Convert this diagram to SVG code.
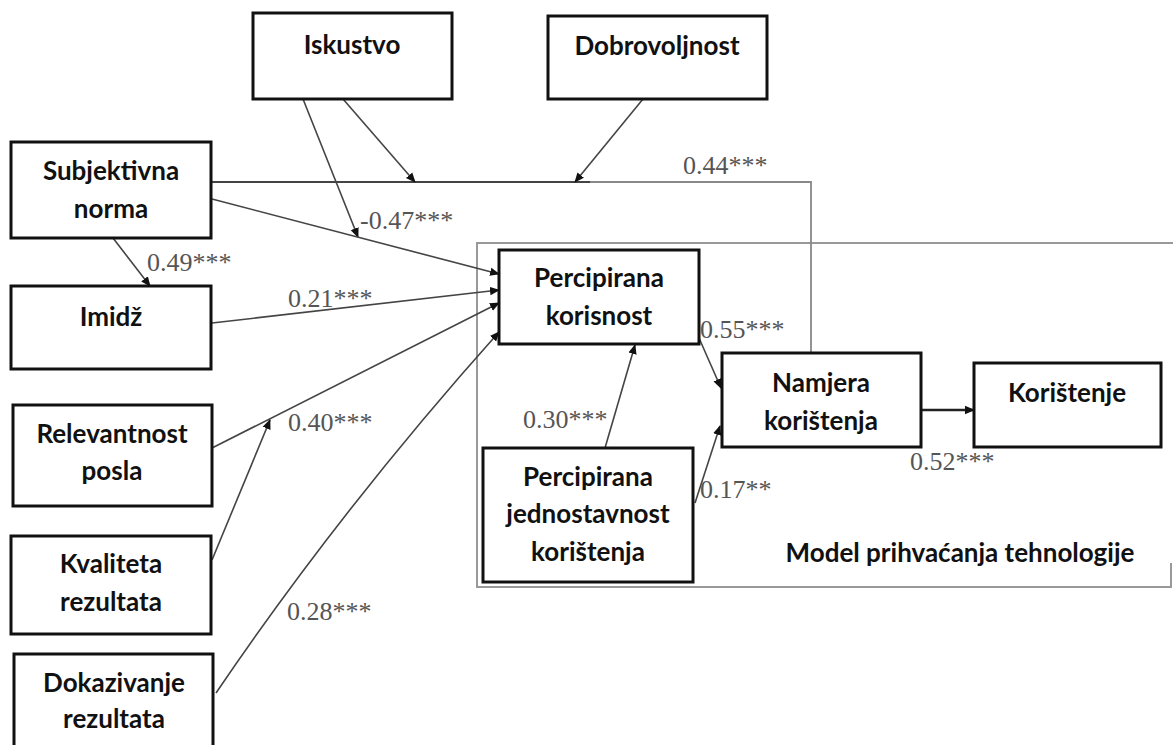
<svg xmlns="http://www.w3.org/2000/svg" width="1173" height="745" viewBox="0 0 1173 745">
<style>
.box{fill:#fff;stroke:#111;stroke-width:3}
.lbl{font-family:Lato,"Liberation Sans",sans-serif;font-weight:700;font-size:26px;fill:#111;text-anchor:middle}
.num{font-family:"Liberation Serif",serif;font-size:26px;fill:#555}
.ln{fill:none;stroke:#444;stroke-width:1.6}
.frame{fill:none;stroke:#999;stroke-width:2}
</style>
<defs>
<marker id="ah" viewBox="0 0 10 10" refX="9" refY="5" markerWidth="10" markerHeight="10" markerUnits="userSpaceOnUse" orient="auto">
<path d="M0,0.8 L10,5 L0,9.2 Z" fill="#111"/>
</marker>
</defs>
<rect width="1173" height="745" fill="#fff"/>

<g id="frames">
<path class="frame" d="M1173,243 H477 V587 H1171 V563"/>
<path d="M211,182 H590" fill="none" stroke="#444" stroke-width="2"/>
<path d="M590,182 H811 V353" fill="none" stroke="#888" stroke-width="1.8"/>
</g>

<g id="connectors">
<line class="ln" x1="343" y1="99" x2="415" y2="182" marker-end="url(#ah)"/>
<line class="ln" x1="303" y1="99" x2="358" y2="237" marker-end="url(#ah)"/>
<line class="ln" x1="643" y1="99" x2="575" y2="182" marker-end="url(#ah)"/>
<line class="ln" x1="113" y1="238" x2="150" y2="286" marker-end="url(#ah)"/>
<line class="ln" x1="212" y1="199" x2="499" y2="274" marker-end="url(#ah)"/>
<line class="ln" x1="212" y1="323" x2="499" y2="290" marker-end="url(#ah)"/>
<line class="ln" x1="212" y1="448" x2="499" y2="303" marker-end="url(#ah)"/>
<line class="ln" x1="212" y1="560" x2="270" y2="420" marker-end="url(#ah)"/>
<path class="ln" d="M216,693 Q340,510 499,332" marker-end="url(#ah)"/>
<line class="ln" x1="605" y1="448" x2="635" y2="345" marker-end="url(#ah)"/>
<line class="ln" x1="699" y1="338" x2="721" y2="388" marker-end="url(#ah)"/>
<line class="ln" x1="695" y1="503" x2="720" y2="426" marker-end="url(#ah)"/>
<line x1="921" y1="410" x2="974" y2="410" stroke="#222" stroke-width="2.4" marker-end="url(#ah)"/>
<text class="num" x="683" y="174">0.44***</text>
<text class="num" x="360" y="229">-0.47***</text>
<text class="num" x="147" y="271">0.49***</text>
<text class="num" x="288" y="307">0.21***</text>
<text class="num" x="288" y="431">0.40***</text>
<text class="num" x="287" y="620">0.28***</text>
<text class="num" x="700" y="338">0.55***</text>
<text class="num" x="523" y="428">0.30***</text>
<text class="num" x="700" y="498">0.17**</text>
<text class="num" x="910" y="470">0.52***</text>
</g>

<g id="iskustvo"><rect class="box" x="253" y="13" width="199" height="86"/><text class="lbl" x="352" y="54">Iskustvo</text></g>
<g id="dobrovoljnost"><rect class="box" x="548" y="16" width="219" height="83"/><text class="lbl" x="657" y="55">Dobrovoljnost</text></g>
<g id="subjektivna-norma"><rect class="box" x="11" y="142" width="200" height="96"/><text class="lbl" x="111" y="180">Subjektivna</text><text class="lbl" x="111" y="218">norma</text></g>
<g id="imidz"><rect class="box" x="11" y="286" width="200" height="83"/><text class="lbl" x="111" y="326">Imidž</text></g>
<g id="relevantnost-posla"><rect class="box" x="13" y="405" width="199" height="101"/><text class="lbl" x="112" y="443">Relevantnost</text><text class="lbl" x="112" y="480">posla</text></g>
<g id="kvaliteta-rezultata"><rect class="box" x="11" y="536" width="200" height="98"/><text class="lbl" x="111" y="573">Kvaliteta</text><text class="lbl" x="111" y="611">rezultata</text></g>
<g id="dokazivanje-rezultata"><rect class="box" x="14" y="654" width="199" height="100"/><text class="lbl" x="114" y="692">Dokazivanje</text><text class="lbl" x="114" y="728">rezultata</text></g>
<g id="percipirana-korisnost"><rect class="box" x="499" y="250" width="200" height="94"/><text class="lbl" x="599" y="287">Percipirana</text><text class="lbl" x="599" y="325">korisnost</text></g>
<g id="percipirana-jednostavnost"><rect class="box" x="483" y="448" width="210" height="134"/><text class="lbl" x="588" y="486">Percipirana</text><text class="lbl" x="588" y="523">jednostavnost</text><text class="lbl" x="588" y="561">korištenja</text></g>
<g id="namjera-koristenja"><rect class="box" x="722" y="353" width="199" height="94"/><text class="lbl" x="821" y="392">Namjera</text><text class="lbl" x="821" y="430">korištenja</text></g>
<g id="koristenje"><rect class="box" x="974" y="363" width="187" height="84"/><text class="lbl" x="1067" y="402">Korištenje</text></g>
<g id="model-label"><text class="lbl" x="960" y="562">Model prihvaćanja tehnologije</text></g>
</svg>
